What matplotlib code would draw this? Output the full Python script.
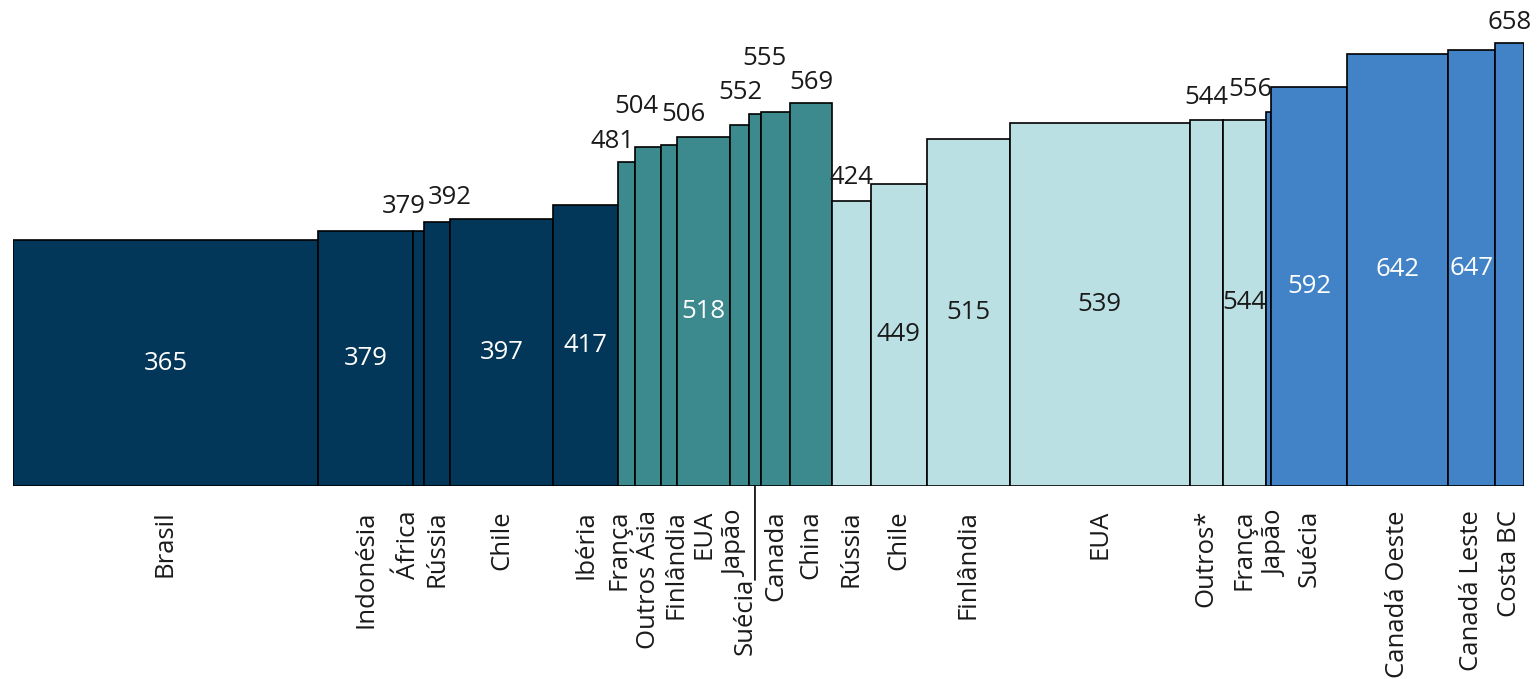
import matplotlib
matplotlib.use("Agg")
import matplotlib.pyplot as plt
import numpy as np

# ---------------- data ----------------
dark_names = ["Brasil", "Indonésia", "África", "Rússia", "Chile", "Ibéria"]
dark_vals = [365, 379, 379, 392, 397, 417]
dark_widths = [30.6, 9.5, 1.1, 2.6, 10.3, 6.5]

teal_names = ["França", "Outros Ásia", "Finlândia", "EUA", "Japão", "Suécia", "Canada", "China"]
teal_vals = [481, 504, 506, 518, 536, 552, 555, 569]
teal_widths = [1.7, 2.6, 1.6, 5.3, 1.9, 1.2, 2.9, 4.2]

light_names = ["Rússia", "Chile", "Finlândia", "EUA", "Outros*", "França"]
light_vals = [424, 449, 515, 539, 544, 544]
light_widths = [3.9, 5.6, 8.3, 18.0, 3.3, 4.3]

blue_names = ["Japão", "Suécia", "Canadá Oeste", "Canadá Leste", "Costa BC"]
blue_vals = [556, 592, 642, 647, 658]
blue_widths = [0.5, 7.7, 10.1, 4.7, 2.9]

# ---------------- styles / layout ----------------
colors = ["#033759", "#3D8A8E", "#BBE0E3", "#4183C6"]
inside_color = ["white", "white", "#1a1a1a", "white"]
FONT = "Open Sans"
FS = 18.5

# which values are written inside (centered) vs above the bar, with pixel offsets
inside = [
    [True, True, False, False, True, True],
    [False, False, False, True, False, False, False, False],
    [False, True, True, True, False, True],
    [False, True, True, True, False],
]
above = [  # (group, index, dx px, dy px above top)
    (0, 2, -15, 24), (0, 3, 13, 25),
    (1, 0, -14, 21), (1, 1, -12, 40), (1, 2, 14, 31), (1, 5, -15, 22),
    (1, 6, -11, 54), (1, 7, 0, 20),
    (2, 0, 0, 23), (2, 4, 0, 22),
    (3, 0, -18, 22), (3, 4, 0, 20),
]
# x-label pixel offsets
lab_dx = [
    [0, 0, -10, 0, 0, 0],
    [-8, 0, 7, 0, -4, -10, 0, 0],
    [0, 0, 0, 0, 0, 0],
    [8, 0, 0, 0, 0],
]

groups_names = [dark_names, teal_names, light_names, blue_names]
groups_vals = [dark_vals, teal_vals, light_vals, blue_vals]
groups_widths = [dark_widths, teal_widths, light_widths, blue_widths]

W, H = 1537, 679
fig = plt.figure(figsize=(W / 100, H / 100), dpi=100)
ax = fig.add_axes([12.6 / W, 193 / H, 1511.7 / W, 486 / H])

total = sum(sum(w) for w in groups_widths)
ax.set_xlim(0, total)
ax.set_ylim(0, 486 / 0.6733)

start = 0.0
centers = []
for g in range(4):
    w = np.array(groups_widths[g], dtype=float)
    lefts = start + np.concatenate([[0], np.cumsum(w)[:-1]])
    ax.bar(lefts, groups_vals[g], width=w, align="edge", color=colors[g],
           edgecolor="black", linewidth=1.2, zorder=2)
    centers.append(lefts + w / 2)
    start += w.sum()

ax.axhline(0, color="#bfbfbf", linewidth=1.5, zorder=1)

# inside labels
for g in range(4):
    for i, v in enumerate(groups_vals[g]):
        if inside[g][i]:
            ax.text(centers[g][i], v / 2, str(v), ha="center", va="center",
                    fontsize=FS, color=inside_color[g], family=FONT, zorder=3)

# above labels
for g, i, dx, dy in above:
    v = groups_vals[g][i]
    ax.annotate(str(v), xy=(centers[g][i], v), xytext=(dx, dy),
                textcoords="offset pixels", ha="center", va="center",
                fontsize=FS, color="#1a1a1a", family=FONT, zorder=3)

# x labels
for g in range(4):
    for i, name in enumerate(groups_names[g]):
        dx = lab_dx[g][i]
        dy = -24
        if g == 1 and name == "Suécia":
            # leader line
            ax.annotate("", xy=(centers[g][i], 0), xytext=(0, -94),
                        textcoords="offset pixels",
                        arrowprops=dict(arrowstyle="-", color="black", lw=1.2,
                                        shrinkA=0, shrinkB=0),
                        annotation_clip=False)
            dy = -92
        ax.annotate(name, xy=(centers[g][i], 0), xytext=(dx, dy),
                    textcoords="offset pixels", rotation=90, ha="center",
                    va="top", fontsize=FS, color="#1a1a1a", family=FONT,
                    annotation_clip=False)

ax.set_axis_off()
fig.savefig("out.png", dpi=100)
